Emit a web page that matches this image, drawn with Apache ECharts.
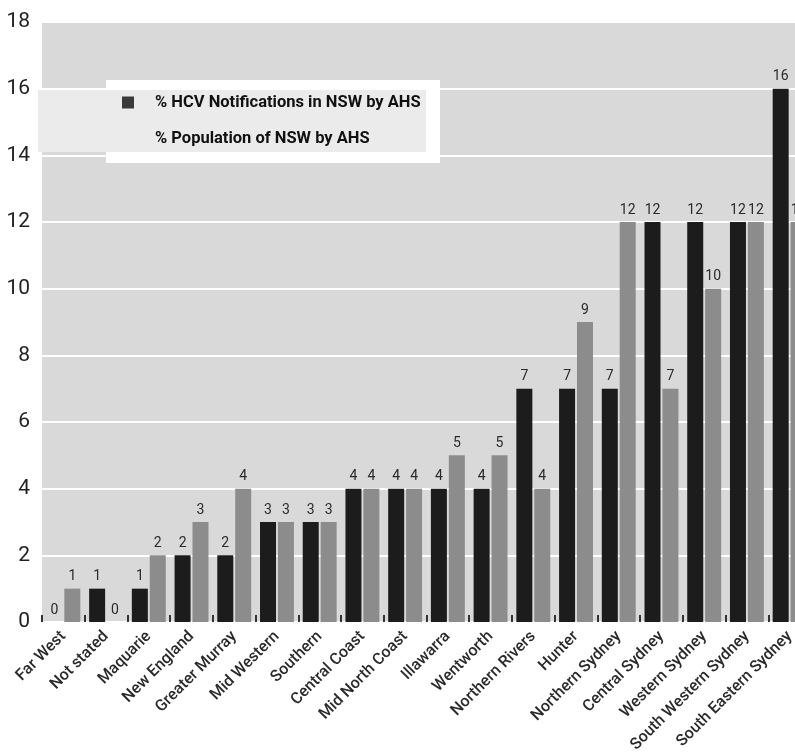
<!doctype html>
<html>
    <head>
        <meta charset="utf-8">
        <title>HCV notifications by AHS</title>
        <style>
            html, body { margin: 0; padding: 0; background: #fff; }
            #main { width: 795px; height: 756px; }
        </style>
    </head>
    <body>
        <div id="main"></div>
        <script src="https://cdn.jsdelivr.net/npm/echarts@6/dist/echarts.min.js"></script>
        <script>
            var areas = ['Far West', 'Not stated', 'Maquarie', 'New England', 'Greater Murray',
                'Mid Western', 'Southern', 'Central Coast', 'Mid North Coast', 'Illawarra',
                'Wentworth', 'Northern Rivers', 'Hunter', 'Northern Sydney', 'Central Sydney',
                'Western Sydney', 'South Western Sydney', 'South Eastern Sydney'];
            var hcvPct = [0, 1, 1, 2, 2, 3, 3, 4, 4, 4, 4, 7, 7, 7, 12, 12, 12, 16];
            var popPct = [1, 0, 2, 3, 4, 3, 3, 4, 4, 5, 5, 4, 9, 12, 7, 10, 12, 12];
            var yTicks = [0, 2, 4, 6, 8, 10, 12, 14, 16, 18];

            var font = 'Roboto, "Liberation Sans", sans-serif';
            var chart = echarts.init(document.getElementById('main'));

            var barLabel = {
                show: true,
                position: 'top',
                distance: 5,
                color: '#2a2a2a',
                fontSize: 14,
                fontFamily: font
            };

            chart.setOption({
                animation: false,
                textStyle: { fontFamily: font },
                graphic: [{
                    type: 'rect',
                    z: 10,
                    shape: { x: 106, y: 80, width: 334, height: 83 },
                    style: { fill: '#ffffff' }
                }, {
                    type: 'rect',
                    z: 11,
                    shape: { x: 38, y: 90, width: 388, height: 62 },
                    style: { fill: '#ebebeb' }
                }],
                legend: {
                    z: 20,
                    orient: 'vertical',
                    left: 116,
                    top: 90,
                    icon: 'rect',
                    itemWidth: 12,
                    itemHeight: 12,
                    itemGap: 19,
                    padding: [4, 6],
                    textStyle: {
                        fontSize: 16.5,
                        fontWeight: 'bold',
                        color: '#111',
                        fontFamily: font,
                        padding: [0, 0, 0, 16]
                    },
                    data: [
                        { name: '% HCV Notifications in NSW by AHS', itemStyle: { color: '#3a3a3a' } },
                        { name: '% Population of NSW by AHS', itemStyle: { color: '#ebebeb' } }
                    ]
                },
                grid: {
                    left: 42,
                    right: -16,
                    top: 22,
                    bottom: 134,
                    outerBoundsMode: 'none',
                    show: true,
                    borderWidth: 0,
                    backgroundColor: '#d9d9d9'
                },
                xAxis: {
                    type: 'category',
                    data: areas,
                    axisLine: { show: false },
                    axisTick: {
                        show: true,
                        inside: true,
                        length: 7,
                        lineStyle: { color: '#333', width: 2 }
                    },
                    axisLabel: {
                        interval: 0,
                        rotate: 45,
                        margin: 12,
                        fontSize: 16,
                        fontWeight: 500,
                        color: '#2a2a2a',
                        fontFamily: font
                    }
                },
                yAxis: {
                    type: 'value',
                    min: yTicks[0],
                    max: yTicks[yTicks.length - 1],
                    interval: 2,
                    axisLine: { show: false },
                    axisTick: { show: false },
                    axisLabel: {
                        fontSize: 21,
                        color: '#222',
                        margin: 12,
                        fontFamily: font
                    },
                    splitLine: { lineStyle: { color: '#ffffff', width: 2 } }
                },
                series: [{
                    name: '% HCV Notifications in NSW by AHS',
                    type: 'bar',
                    data: hcvPct,
                    barWidth: 16,
                    barGap: '12%',
                    itemStyle: { color: '#1c1c1c' },
                    label: barLabel
                }, {
                    name: '% Population of NSW by AHS',
                    type: 'bar',
                    data: popPct,
                    barWidth: 16,
                    itemStyle: { color: '#8c8c8c' },
                    label: barLabel
                }]
            });

            window.addEventListener('resize', chart.resize);
        </script>
    </body>
</html>
